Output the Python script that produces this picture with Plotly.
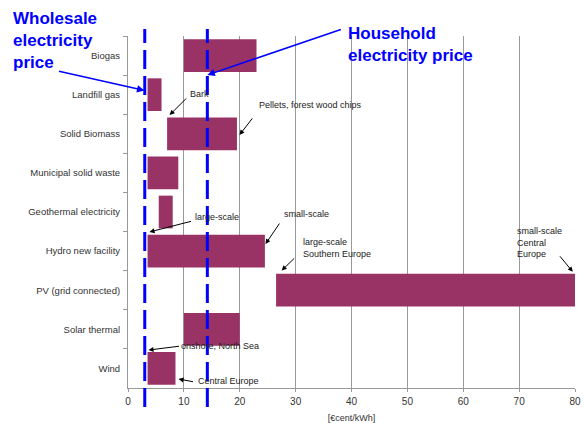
import plotly.graph_objects as go

categories = ["Biogas", "Landfill gas", "Solid Biomass", "Municipal solid waste",
              "Geothermal electricity", "Hydro new facility", "PV (grid connected)",
              "Solar thermal", "Wind"]
cost_low = [10, 3.5, 7, 3.5, 5.5, 3.5, 26.5, 10, 3.5]
cost_high = [23, 6, 19.5, 9, 8, 24.5, 80, 20, 8.5]
wholesale_price = 3.0
household_price = 14.2
x_ticks = [0, 10, 20, 30, 40, 50, 60, 70, 80]

FONT = "Liberation Sans, Arial, sans-serif"
BLUE = "#0000FF"

fig = go.Figure()
fig.add_trace(go.Bar(
    y=categories,
    x=[h - l for l, h in zip(cost_low, cost_high)],
    base=cost_low,
    orientation="h",
    marker=dict(color="#993366", line=dict(width=0)),
    hoverinfo="skip",
))

for p in (wholesale_price, household_price):
    fig.add_shape(type="line", xref="x", yref="paper", x0=p, x1=p,
                  y0=-0.054, y1=1.02,
                  line=dict(color=BLUE, width=3, dash="19px,7px"))

ann = []
# Blue price labels
ann.append(dict(text="<b>Wholesale<br>electricity<br>price</b>", xref="paper", yref="paper",
                x=-0.262, y=1.083, xanchor="left", yanchor="top", align="left",
                showarrow=False, font=dict(family=FONT, size=17, color=BLUE)))
ann.append(dict(text="<b>Household<br>electricity price</b>", xref="paper", yref="paper",
                x=0.4877, y=1.04, xanchor="left", yanchor="top", align="left",
                showarrow=False, font=dict(family=FONT, size=17, color=BLUE)))
# Blue arrows
ann.append(dict(text="", x=2.95, y=0.894, xref="x", yref="y", showarrow=True,
                ax=-87, ay=-19.5, arrowhead=2, arrowsize=1, arrowwidth=1.5,
                arrowcolor=BLUE, standoff=0))
ann.append(dict(text="", x=14.2, y=0.497, xref="x", yref="y", showarrow=True,
                ax=135, ay=-46, arrowhead=2, arrowsize=1, arrowwidth=1.5,
                arrowcolor=BLUE, standoff=0))

# Small black notes: (text, text_x, text_y, head_x, head_y, ax, ay)
notes = [
    ("Bark", 10.65, 0.983, 7.45, 1.52, 18, -18),
    ("Pellets, forest wood chips", 23.0, 1.264, 19.95, 2.03, 14, -18),
    ("large-scale", 11.7, 4.13, 3.85, 4.51, 43, -11),
    ("small-scale", 27.65, 4.05, 24.6, 4.82, 15, -22),
    ("large-scale<br>Southern Europe", 30.9, 4.91, 27.5, 5.496, 14, -13.5),
    ("small-scale<br>Central<br>Europe", 69.2, 4.77, 79.6, 5.53, -14, -17),
    ("onshore, North Sea", 9.2, 7.43, 3.67, 7.53, 32, -4),
    ("Central Europe", 12.1, 8.32, 9.04, 8.27, 16, 3),
]
for t, tx, ty, hx, hy, ax, ay in notes:
    ann.append(dict(text=t, x=tx, y=ty, xref="x", yref="y", xanchor="left",
                    yanchor="middle", align="left", showarrow=False,
                    font=dict(family=FONT, size=9, color="#222222")))
    ann.append(dict(text="", x=hx, y=hy, xref="x", yref="y", showarrow=True,
                    ax=ax, ay=ay, arrowhead=2, arrowsize=1, arrowwidth=1,
                    arrowcolor="#000000", standoff=0))

fig.update_layout(
    width=584, height=423,
    margin=dict(l=128, r=9, t=36, b=35),
    paper_bgcolor="white", plot_bgcolor="white",
    showlegend=False,
    bargap=0.164,
    hovermode=False,
    font=dict(family=FONT, size=10, color="#333333"),
    annotations=ann,
    xaxis=dict(range=[0, 80], tickvals=x_ticks, ticktext=[str(v) for v in x_ticks],
               automargin=False,
               showgrid=True, gridcolor="#999999", gridwidth=1,
               showline=True, linecolor="#999999", linewidth=1,
               ticks="outside", ticklen=3, tickcolor="#999999",
               ticklabelstandoff=1,
               tickfont=dict(family=FONT, size=10, color="#333333"),
               zeroline=False,
               title=dict(text="[€cent/kWh]", font=dict(family=FONT, size=9, color="#333333"),
                          standoff=9)),
    yaxis=dict(type="category", categoryorder="array", categoryarray=categories,
               range=[8.5, -0.5], automargin=False,
               showgrid=False, zeroline=False,
               showline=True, linecolor="#999999", linewidth=1,
               ticks="outside", ticklen=4, tickcolor="#999999", tickson="boundaries",
               ticklabelstandoff=5,
               tickfont=dict(family=FONT, size=9.5, color="#333333")),
)

fig.write_html("out.html", config={"displayModeBar": False},
               post_script="document.body.style.margin='0px';document.body.style.overflow='hidden';")
